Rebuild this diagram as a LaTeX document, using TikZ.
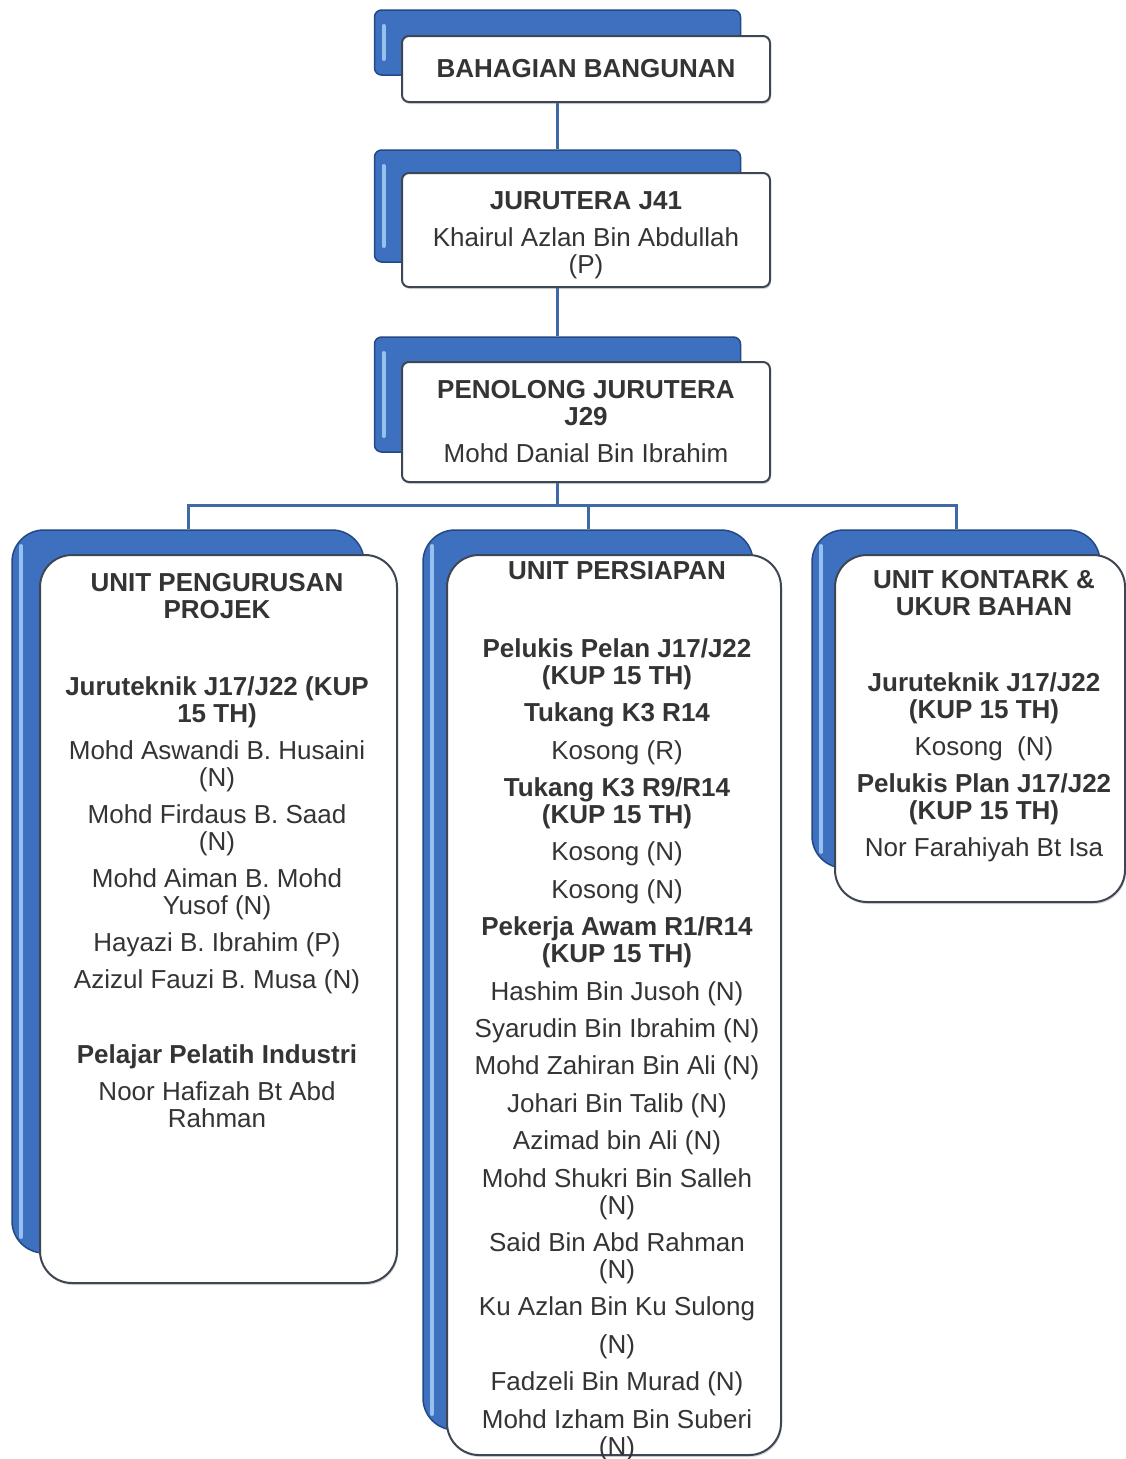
\documentclass[tikz,border=0pt]{standalone}
\usepackage{fontspec}
\setmainfont{Liberation Sans}
\usetikzlibrary{shadows}
\usetikzlibrary{backgrounds}

\definecolor{cardBlue}{RGB}{62,112,192}
\definecolor{cardEdge}{RGB}{36,72,134}
\definecolor{cardLight}{RGB}{150,192,238}
\definecolor{edgeGray}{RGB}{62,70,84}
\definecolor{textGray}{RGB}{52,52,52}
\definecolor{linkBlue}{RGB}{62,104,166}

\begin{document}
\begin{tikzpicture}[x = 1pt, y = -1pt, font=\fontsize{26}{27}\selectfont]
	\tikzstyle{backStyle} = [shape = rectangle, draw = cardEdge, fill = cardBlue, line width = 1.5pt,
		path picture = {\draw[cardLight, line width = 4pt, line cap = round]
			([xshift = 9pt, yshift = -16pt]path picture bounding box.north west) --
			([xshift = 9pt, yshift = 16pt]path picture bounding box.south west);}]
	\tikzstyle{frontStyle} = [shape = rectangle, draw = edgeGray, fill = white, line width = 2pt,
		align = center, text = textGray, inner sep = 0pt,
		drop shadow = {shadow xshift = 1pt, shadow yshift = -2pt, opacity = 0.3}]
	\tikzstyle{textStyle} = [align = center, anchor = north, inner sep = 0pt, text = textGray]
	\tikzstyle{linkStyle} = [draw = linkBlue, line width = 3pt]
	\useasboundingbox (0,0) rectangle (1126,1459);

	% top of the chart
	\node[backStyle, rounded corners = 7, minimum width = 366, minimum height = 65] (bahagianBack) at (557.5,42.5) {};
	\node[frontStyle, rounded corners = 7, minimum width = 368, minimum height = 66] (bahagian) at (586,69) {\textbf{BAHAGIAN BANGUNAN}};
	\node[backStyle, rounded corners = 7, minimum width = 366, minimum height = 112] (juruteraBack) at (557.5,206) {};
	\node[frontStyle, rounded corners = 7, minimum width = 368, minimum height = 114] (jurutera) at (586,230)
		{\rule{0pt}{28pt}\textbf{JURUTERA J41}\\[10pt] Khairul Azlan Bin Abdullah\\ (P)};
	\node[backStyle, rounded corners = 7, minimum width = 366, minimum height = 115] (penolongBack) at (557.5,394.5) {};
	\node[frontStyle, rounded corners = 7, minimum width = 368, minimum height = 120] (penolong) at (586,422)
		{\textbf{PENOLONG JURUTERA}\\ \textbf{J29}\\[10pt] Mohd Danial Bin Ibrahim};

	% the three units
	\node[backStyle, rounded corners = 32, minimum width = 352, minimum height = 723] (projekBack) at (188,891.5) {};
	\node[frontStyle, rounded corners = 32, minimum width = 357, minimum height = 728] (projek) at (218.5,919) {};
	\node[backStyle, rounded corners = 32, minimum width = 330, minimum height = 900] (persiapanBack) at (588,980) {};
	\node[frontStyle, rounded corners = 32, minimum width = 334, minimum height = 900] (persiapan) at (614,1005) {};
	\node[backStyle, rounded corners = 32, minimum width = 288, minimum height = 338] (kontrakBack) at (956,699) {};
	\node[frontStyle, rounded corners = 32, minimum width = 290, minimum height = 347] (kontrak) at (980,728.5) {};

	\node[textStyle] (projekText) at (217,573)
		{\textbf{UNIT PENGURUSAN}\\ \textbf{PROJEK}\\[50pt]
		\textbf{Juruteknik J17/J22 (KUP}\\ \textbf{15 TH)}\\[10pt]
		Mohd Aswandi B. Husaini\\ (N)\\[10pt]
		Mohd Firdaus B. Saad\\ (N)\\[10pt]
		Mohd Aiman B. Mohd\\ Yusof (N)\\[10pt]
		Hayazi B. Ibrahim (P)\\[10pt]
		Azizul Fauzi B. Musa (N)\\[48pt]
		\textbf{Pelajar Pelatih Industri}\\[10pt]
		Noor Hafizah Bt Abd\\ Rahman};
	\node[textStyle] (persiapanText) at (617,561)
		{\textbf{UNIT PERSIAPAN}\\[51pt]
		\textbf{Pelukis Pelan J17/J22}\\ \textbf{(KUP 15 TH)}\\[10.4pt]
		\textbf{Tukang K3 R14}\\[10.4pt]
		Kosong (R)\\[10.4pt]
		\textbf{Tukang K3 R9/R14}\\ \textbf{(KUP 15 TH)}\\[10.4pt]
		Kosong (N)\\[10.4pt]
		Kosong (N)\\[10.4pt]
		\textbf{Pekerja Awam R1/R14}\\ \textbf{(KUP 15 TH)}\\[10.4pt]
		Hashim Bin Jusoh (N)\\[10.4pt]
		Syarudin Bin Ibrahim (N)\\[10.4pt]
		Mohd Zahiran Bin Ali (N)\\[10.4pt]
		Johari Bin Talib (N)\\[10.4pt]
		Azimad bin Ali (N)\\[10.4pt]
		Mohd Shukri Bin Salleh\\ (N)\\[10.4pt]
		Said Bin Abd Rahman\\ (N)\\[10.4pt]
		Ku Azlan Bin Ku Sulong\\[10.4pt] (N)\\[10.4pt]
		Fadzeli Bin Murad (N)\\[10.4pt]
		Mohd Izham Bin Suberi\\ (N)};
	\node[textStyle] (kontrakText) at (984,570)
		{\textbf{UNIT KONTARK \&}\\ \textbf{UKUR BAHAN}\\[49pt]
		\textbf{Juruteknik J17/J22}\\ \textbf{(KUP 15 TH)}\\[10pt]
		Kosong\ \ (N)\\[10pt]
		\textbf{Pelukis Plan J17/J22}\\ \textbf{(KUP 15 TH)}\\[10pt]
		Nor Farahiyah Bt Isa};

	% connectors
	\begin{scope}[on background layer]
		\coordinate (fork) at (557.5,505);
		\draw[linkStyle] (bahagianBack.south) -- (juruteraBack.north);
		\draw[linkStyle] (juruteraBack.south) -- (penolongBack.north);
		\draw[linkStyle] (penolongBack.south) -- (fork);
		\draw[linkStyle] (fork) -| (projekBack.north);
		\draw[linkStyle] (fork) -| (persiapanBack.north);
		\draw[linkStyle] (fork) -| (kontrakBack.north);
	\end{scope}
\end{tikzpicture}
\end{document}
